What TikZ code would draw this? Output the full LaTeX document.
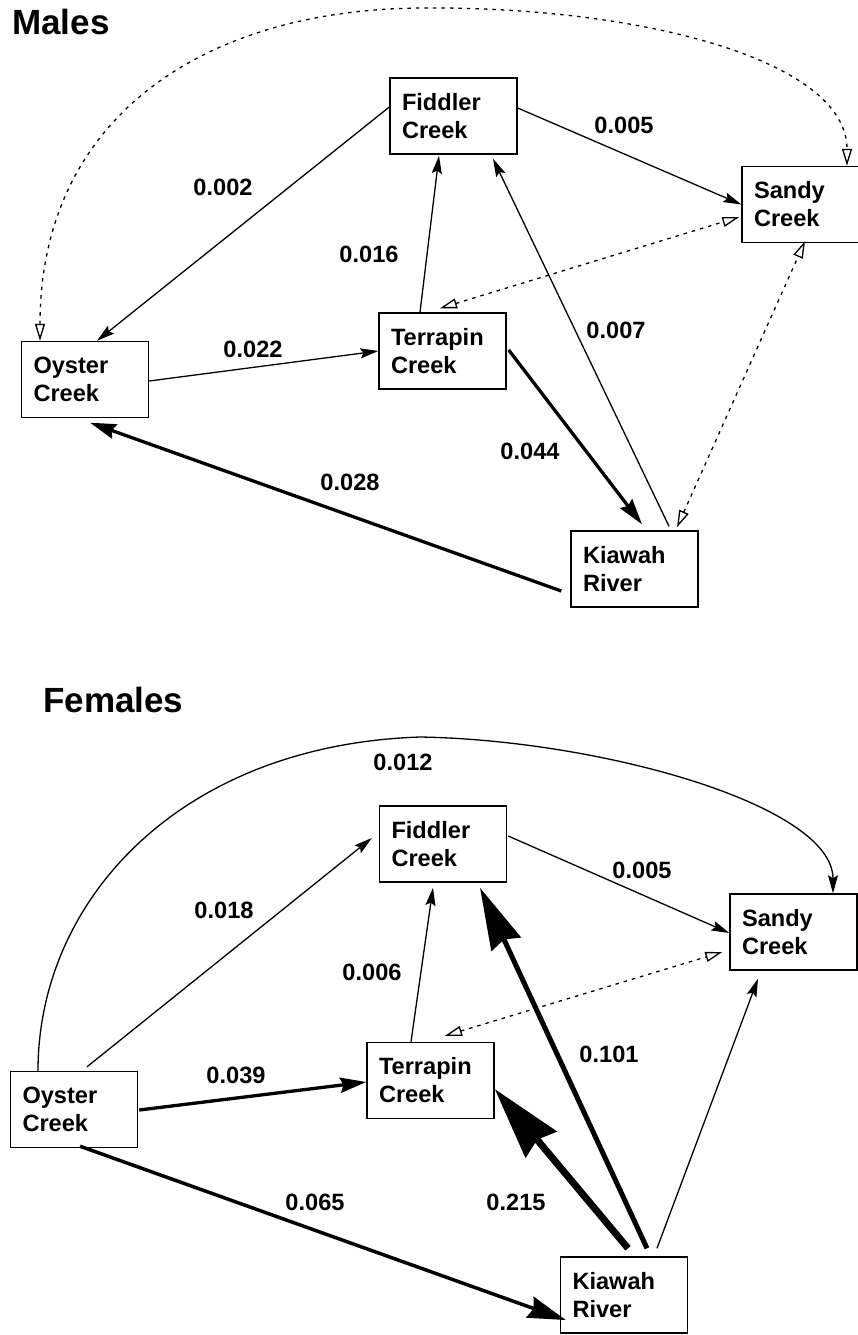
\documentclass[tikz,border=0pt]{standalone}
\usepackage{fontspec}
\setmainfont{Liberation Sans}
\usetikzlibrary{arrows.meta,calc}

\begin{document}
\begin{tikzpicture}[x=1pt,y=-1pt,font={\fontsize{23.6}{28}\selectfont\bfseries}]
\tikzset{site/.style={draw,line width=1.4pt,text width=103pt,inner xsep=12pt,inner ysep=0pt,minimum height=76pt,align=left},
  ttl/.style={anchor=base west,inner sep=0pt,font={\fontsize{35}{40}\selectfont\bfseries}},
  lbl/.style={anchor=base,inner sep=0pt},
  flow/.style={line width=1.3pt,-{Stealth[length=18pt,width=10pt,inset=3pt]}},
  mid/.style={line width=3.3pt,-{Stealth[length=26pt,width=15pt,inset=3pt]}},
  big/.style={line width=3.5pt,-{Stealth[length=38pt,width=22pt,inset=4pt]}},
  huge/.style={line width=5pt,-{Stealth[length=62pt,width=32pt,inset=5pt]}},
  giant/.style={line width=7pt,-{Stealth[length=72pt,width=40pt,inset=6pt]}},
  dots/.style={line width=1.3pt,dash pattern=on 3.5pt off 5pt,{Triangle[open,length=17pt,width=10pt]}-{Triangle[open,length=17pt,width=10pt]}}}
\useasboundingbox (0,0) rectangle (858,1335);

\node[ttl] (tM) at (12,35) {Males};
\node[site] (fidM) at (453.5,116) {Fiddler\\Creek};
\node[site] (sanM) at (805.5,204.5) {Sandy\\Creek};
\node[site] (oysM) at (85,379.5) {Oyster\\Creek};
\node[site] (terM) at (442.5,351) {Terrapin\\Creek};
\node[site] (kiaM) at (634.5,569) {Kiawah\\River};

\draw[dots] ($(oysM.north)+(-45,0)$) .. controls (40,120) and (200,10) .. (420,8) .. controls (640,6) and (847,60) .. ($(sanM.north)+(41.5,0)$);
\draw[dots] ($(terM.north)+(-2.5,-4)$) -- ($(sanM.west)+(-2,12.5)$);
\draw[dots] ($(kiaM.north)+(42.5,-3)$) -- ($(sanM.south)+(-0.5,-2)$);
\draw[flow] ($(fidM.west)+(0,-9)$) -- ($(oysM.north)+(12,0)$);
\draw[flow] ($(fidM.east)+(0,-8)$) -- (sanM.west);
\draw[flow] ($(terM.north)+(-22.5,0)$) -- ($(fidM.south)+(-14.5,1)$);
\draw[flow] ($(oysM.east)+(0,1.5)$) -- (terM.west);
\draw[mid] ($(terM.east)+(2,-1)$) -- ($(kiaM.north)+(7.5,-6)$);
\draw[flow] ($(kiaM.north)+(34.5,-4)$) -- ($(fidM.south)+(39.5,4)$);
\draw[mid] ($(kiaM.west)+(-9,22)$) -- ($(oysM.south)+(5,4.5)$);

\node[lbl] (m002) at (223,195) {0.002};
\node[lbl] (m005) at (624,133) {0.005};
\node[lbl] (m016) at (369,262) {0.016};
\node[lbl] (m022) at (253,357) {0.022};
\node[lbl] (m007) at (616,338) {0.007};
\node[lbl] (m044) at (530,459) {0.044};
\node[lbl] (m028) at (350,490) {0.028};

\node[ttl] (tF) at (43,712) {Females};
\node[site] (fidF) at (443,844) {Fiddler\\Creek};
\node[site] (sanF) at (793.5,932) {Sandy\\Creek};
\node[site] (oysF) at (74,1109.5) {Oyster\\Creek};
\node[site] (terF) at (430.5,1080.5) {Terrapin\\Creek};
\node[site] (kiaF) at (624,1295) {Kiawah\\River};

\draw[flow] ($(oysF.north)+(-36,0)$) .. controls (38,900) and (180,745) .. (420,737) .. controls (600,740) and (833,805) .. ($(sanF.north)+(39.5,0)$);
\draw[flow] ($(oysF.north)+(13,-4)$) -- ($(fidF.west)+(-7,-6)$);
\draw[flow] ($(fidF.east)+(1,-8)$) -- ($(sanF.west)+(0,1)$);
\draw[flow] ($(terF.north)+(-19.5,0)$) -- ($(fidF.south)+(-10,5)$);
\draw[dots] ($(terF.north)+(14.5,-6)$) -- ($(sanF.west)+(-7,20)$);
\draw[huge] ($(kiaF.north)+(23,-8)$) -- ($(fidF.south)+(37,5)$);
\draw[giant] ($(kiaF.north)+(4,-8)$) -- ($(terF.east)+(0,8.5)$);
\draw[flow] ($(kiaF.north)+(33,-8)$) -- ($(sanF.south)+(-35.5,8)$);
\draw[mid] ($(oysF.east)+(1,0.5)$) -- ($(terF.west)+(0,1.5)$);
\draw[big] ($(oysF.south)+(6,-2)$) -- ($(kiaF.west)+(6,25)$);

\node[lbl] (f012) at (403,770) {0.012};
\node[lbl] (f018) at (224,918) {0.018};
\node[lbl] (f005) at (642,878) {0.005};
\node[lbl] (f006) at (372,980) {0.006};
\node[lbl] (f101) at (609,1062) {0.101};
\node[lbl] (f039) at (236,1083) {0.039};
\node[lbl] (f065) at (315,1210) {0.065};
\node[lbl] (f215) at (516,1210) {0.215};
\end{tikzpicture}
\end{document}
